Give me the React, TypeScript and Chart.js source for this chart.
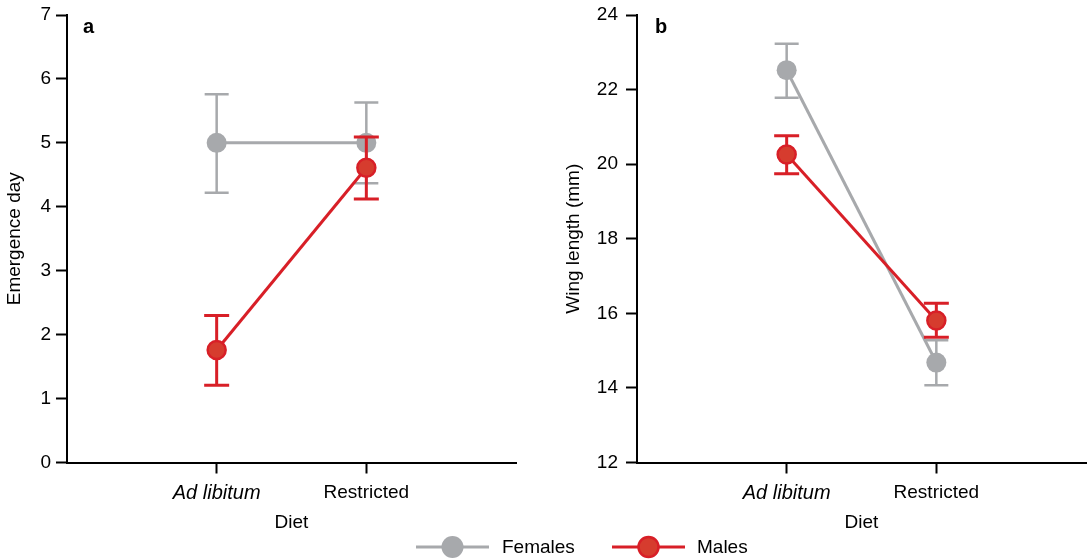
import React, { useEffect, useRef } from "react";
import { Chart, registerables } from "chart.js";
Chart.register(...registerables);

const FONT = "'Liberation Sans', Arial, Helvetica, sans-serif";

const dietLabels = ["Ad libitum", "Restricted"];
const dietPositions = [1, 2];

const emergenceTicks = [0, 1, 2, 3, 4, 5, 6, 7];
const emergenceFemaleMean = [5.0, 5.0];
const emergenceFemaleLow = [4.22, 4.37];
const emergenceFemaleHigh = [5.76, 5.63];
const emergenceMaleMean = [1.76, 4.61];
const emergenceMaleLow = [1.21, 4.12];
const emergenceMaleHigh = [2.3, 5.09];

const wingTicks = [12, 14, 16, 18, 20, 22, 24];
const wingFemaleMean = [22.52, 14.68];
const wingFemaleLow = [21.78, 14.07];
const wingFemaleHigh = [23.23, 15.28];
const wingMaleMean = [20.26, 15.81];
const wingMaleLow = [19.74, 15.36];
const wingMaleHigh = [20.76, 16.27];

const GRAY = "#a7a9ac";
const RED_LINE = "#d81f27";
const RED_FILL = "#d63c2e";

const errorBarPlugin = {
  id: "errorBars",
  beforeDatasetDraw(chart: any, args: any) {
    const ds: any = chart.data.datasets[args.index];
    if (!ds.errLow) return;
    const xs = chart.scales.x;
    const ys = chart.scales.y;
    const ctx = chart.ctx;
    ctx.save();
    ctx.strokeStyle = ds.errColor;
    ctx.lineWidth = ds.errWidth;
    ctx.lineCap = "butt";
    const half = ds.capWidth / 2;
    for (let i = 0; i < ds.errLow.length; i++) {
      const x = xs.getPixelForValue(dietPositions[i]);
      const yl = ys.getPixelForValue(ds.errLow[i]);
      const yh = ys.getPixelForValue(ds.errHigh[i]);
      ctx.beginPath();
      ctx.moveTo(x, yl);
      ctx.lineTo(x, yh);
      ctx.moveTo(x - half, yl);
      ctx.lineTo(x + half, yl);
      ctx.moveTo(x - half, yh);
      ctx.lineTo(x + half, yh);
      ctx.stroke();
    }
    ctx.restore();
  },
};

function makePanelLabelPlugin(label: string, x: number) {
  return {
    id: "panelLabel",
    afterDraw(chart: any) {
      const ctx = chart.ctx;
      ctx.save();
      ctx.font = `bold 20px ${FONT}`;
      ctx.fillStyle = "#000";
      ctx.textBaseline = "alphabetic";
      ctx.textAlign = "left";
      ctx.fillText(label, x, 33);
      ctx.restore();
    },
  };
}

interface PanelProps {
  left: number;
  yTitle: string;
  yTicks: number[];
  femaleMean: number[];
  femaleLow: number[];
  femaleHigh: number[];
  maleMean: number[];
  maleLow: number[];
  maleHigh: number[];
  padLeft: number;
  padRight: number;
  yAxisWidth: number;
  yTickPad: number;
  label: string;
  labelX: number;
}

function Panel(p: PanelProps) {
  const ref = useRef<HTMLCanvasElement | null>(null);
  useEffect(() => {
    if (!ref.current) return;
    const toPts = (arr: number[]) => arr.map((v, i) => ({ x: dietPositions[i], y: v }));
    const chart = new Chart(ref.current, {
      type: "line",
      data: {
        datasets: [
          {
            label: "Females",
            data: toPts(p.femaleMean),
            borderColor: GRAY,
            backgroundColor: GRAY,
            borderWidth: 3,
            pointRadius: 10,
            pointBorderWidth: 0,
            pointBackgroundColor: GRAY,
            pointBorderColor: GRAY,
            order: 2,
            errLow: p.femaleLow,
            errHigh: p.femaleHigh,
            errColor: GRAY,
            errWidth: 2.5,
            capWidth: 24,
          } as any,
          {
            label: "Males",
            data: toPts(p.maleMean),
            borderColor: RED_LINE,
            backgroundColor: RED_FILL,
            borderWidth: 3,
            pointRadius: 9,
            pointBorderWidth: 2.5,
            pointBackgroundColor: RED_FILL,
            pointBorderColor: RED_LINE,
            order: 1,
            errLow: p.maleLow,
            errHigh: p.maleHigh,
            errColor: RED_LINE,
            errWidth: 3,
            capWidth: 25,
          } as any,
        ],
      },
      options: {
        animation: false,
        responsive: false,
        devicePixelRatio: 1,
        layout: {
          autoPadding: false,
          padding: { left: p.padLeft, right: p.padRight, top: 15, bottom: 5.5 },
        },
        plugins: { legend: { display: false }, tooltip: { enabled: false } },
        elements: { line: { tension: 0 } },
        scales: {
          x: {
            type: "linear",
            min: 0,
            max: 3,
            afterBuildTicks: (scale: any) => {
              scale.ticks = dietPositions.map((v) => ({ value: v }));
            },
            afterFit: (scale: any) => {
              scale.height = 72;
              scale.paddingLeft = 0;
              scale.paddingRight = 0;
            },
            ticks: {
              color: "#000",
              padding: 8,
              maxRotation: 0,
              autoSkip: false,
              font: (ctx: any) => ({ family: FONT, size: ctx.index === 0 ? 20 : 19, style: ctx.index === 0 ? "italic" : "normal" }),
              callback: (v: any) => {
                const idx = dietPositions.indexOf(Number(v));
                return idx >= 0 ? dietLabels[idx] : "";
              },
            },
            grid: {
              display: true,
              drawOnChartArea: false,
              drawTicks: true,
              tickLength: 11,
              tickWidth: 2,
              tickColor: "#000",
            },
            border: { display: true, color: "#000", width: 2 },
            title: {
              display: true,
              text: "Diet",
              color: "#000",
              font: { family: FONT, size: 19 },
              padding: { top: 0, bottom: 0 },
            },
          },
          y: {
            type: "linear",
            min: p.yTicks[0],
            max: p.yTicks[p.yTicks.length - 1],
            afterBuildTicks: (scale: any) => {
              scale.ticks = p.yTicks.map((v) => ({ value: v }));
            },
            afterFit: (scale: any) => {
              scale.width = p.yAxisWidth;
              scale.paddingTop = 0;
              scale.paddingBottom = 0;
            },
            ticks: {
              color: "#000",
              padding: p.yTickPad,
              font: { family: FONT, size: 19 },
              callback: (v: any) => String(v),
            },
            grid: {
              display: true,
              drawOnChartArea: false,
              drawTicks: true,
              tickLength: 11,
              tickWidth: 2,
              tickColor: "#000",
            },
            border: { display: true, color: "#000", width: 2 },
            title: {
              display: true,
              text: p.yTitle,
              color: "#000",
              font: { family: FONT, size: 19 },
              padding: { top: 3, bottom: 0 },
            },
          },
        },
      } as any,
      plugins: [errorBarPlugin, makePanelLabelPlugin(p.label, p.labelX)],
    });
    return () => chart.destroy();
  }, []);
  return (
    <canvas
      ref={ref}
      width={544}
      height={540}
      style={{ position: "absolute", left: p.left, top: 0, width: 544, height: 540 }}
    />
  );
}

function LegendMarker({ left, fill, stroke, strokeWidth, r, lineColor }: any) {
  return (
    <svg
      width={82}
      height={26}
      style={{ position: "absolute", left, top: 534 }}
    >
      <line x1={4} y1={13} x2={77} y2={13} stroke={lineColor} strokeWidth={3} />
      <circle cx={40.5} cy={13} r={r} fill={fill} stroke={stroke} strokeWidth={strokeWidth} />
    </svg>
  );
}

export default function App() {
  const textStyle: React.CSSProperties = {
    position: "absolute",
    top: 534,
    height: 26,
    lineHeight: "26px",
    fontFamily: FONT,
    fontSize: 19,
    color: "#000",
    whiteSpace: "nowrap",
  };
  return (
    <div
      style={{
        position: "absolute",
        left: 0,
        top: 0,
        width: 1088,
        height: 560,
        background: "#fff",
        overflow: "hidden",
      }}
    >
      <Panel
        left={0}
        yTitle="Emergence day"
        yTicks={emergenceTicks}
        femaleMean={emergenceFemaleMean}
        femaleLow={emergenceFemaleLow}
        femaleHigh={emergenceFemaleHigh}
        maleMean={emergenceMaleMean}
        maleLow={emergenceMaleLow}
        maleHigh={emergenceMaleHigh}
        padLeft={0}
        padRight={28}
        yAxisWidth={67}
        yTickPad={5}
        label="a"
        labelX={83}
      />
      <Panel
        left={544}
        yTitle="Wing length (mm)"
        yTicks={wingTicks}
        femaleMean={wingFemaleMean}
        femaleLow={wingFemaleLow}
        femaleHigh={wingFemaleHigh}
        maleMean={wingMaleMean}
        maleLow={wingMaleLow}
        maleHigh={wingMaleHigh}
        padLeft={15}
        padRight={2}
        yAxisWidth={78}
        yTickPad={8}
        label="b"
        labelX={111}
      />
      <LegendMarker left={412} fill={GRAY} stroke="none" strokeWidth={0} r={11} lineColor={GRAY} />
      <span style={{ ...textStyle, left: 502 }}>Females</span>
      <LegendMarker left={608} fill={RED_FILL} stroke={RED_LINE} strokeWidth={2.5} r={10} lineColor={RED_LINE} />
      <span style={{ ...textStyle, left: 697 }}>Males</span>
    </div>
  );
}
